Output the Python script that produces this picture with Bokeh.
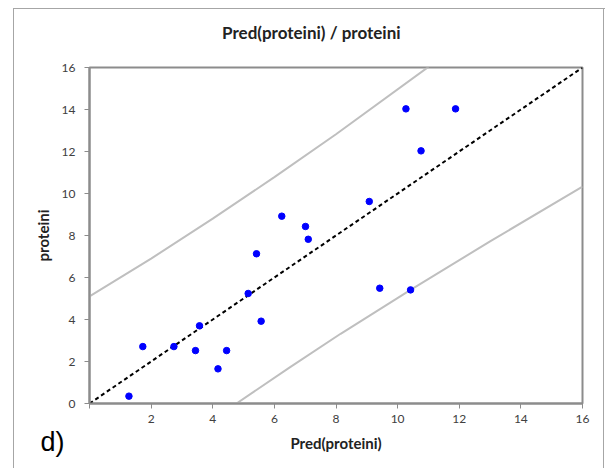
from bokeh.plotting import figure
from bokeh.models import Range1d, Label, FixedTicker
from bokeh.embed import file_html
from bokeh.resources import INLINE

# data
pred = [1.28, 1.73, 2.74, 3.44, 3.57, 4.17, 4.45, 5.15, 5.42, 5.57, 6.24, 7.01, 7.10,
        9.08, 9.42, 10.27, 10.42, 10.76, 11.88]
prot = [0.35, 2.71, 2.71, 2.52, 3.70, 1.65, 2.52, 5.24, 7.13, 3.92, 8.92, 8.43, 7.82,
        9.62, 5.49, 14.03, 5.41, 12.03, 14.03]
diag_x = [0, 16]
diag_y = [0, 16]
upper_x = [0.0, 2.0, 4.0, 6.0, 8.0, 11.0]
upper_y = [5.1, 6.9, 8.8, 10.78, 12.82, 16.03]
lower_x = [4.77, 6.5, 8.15, 10.42, 13.0, 16.0]
lower_y = [0.0, 1.72, 3.32, 5.41, 7.72, 10.33]
ticks = [0, 2, 4, 6, 8, 10, 12, 14, 16]
title_text = "Pred(proteini) / proteini"
panel_tag = "d)"

FONT = "Lato"
GREY = "#8c8c8c"
BORDER = "#a6a6a6"

p = figure(width=605, height=468, output_backend="svg", toolbar_location=None,
           x_range=Range1d(0, 16), y_range=Range1d(0, 16),
           min_border_left=89, min_border_right=23, min_border_top=67, min_border_bottom=65)
p.background_fill_color = "white"
p.border_fill_color = None
p.grid.visible = False
p.outline_line_color = GREY
p.outline_line_width = 2
g = f"linear-gradient({BORDER},{BORDER})"
p.styles = {
    "background-color": "white",
    "background-image": f"{g}, {g}, {g}",
    "background-size": "1px 100%, 100% 1px, 1px 100%",
    "background-position": "13px 8px, 13px 8px, 603px 8px",
    "background-repeat": "no-repeat",
}

for ax in (p.xaxis[0], p.yaxis[0]):
    ax.ticker = FixedTicker(ticks=ticks)
    ax.axis_line_color = GREY
    ax.axis_line_width = 2
    ax.major_tick_line_color = GREY
    ax.major_tick_out = 5
    ax.major_tick_in = 0
    ax.minor_tick_line_color = None
    ax.major_label_text_font = FONT
    ax.major_label_text_font_size = "12px"
    ax.major_label_text_color = "#404040"
    ax.axis_label_text_font = FONT
    ax.axis_label_text_font_size = "15px"
    ax.axis_label_text_font_style = "bold"
    ax.axis_label_text_color = "#222222"

p.xaxis.major_label_overrides = {0: ""}
p.xaxis.axis_label = "Pred(proteini)"
p.yaxis.axis_label = "proteini"
p.xaxis.major_label_standoff = 6
p.yaxis.major_label_standoff = 9
p.xaxis.axis_label_standoff = 8
p.yaxis.axis_label_standoff = 7

p.line(upper_x, upper_y, line_color="#bfbfbf", line_width=2)
p.line(lower_x, lower_y, line_color="#bfbfbf", line_width=2)
p.line(diag_x, diag_y, line_color="black", line_width=2, line_dash="4 3")
p.scatter(pred, prot, size=6.5, fill_color="#0000ff", line_color="#0000ff")

# title and panel tag live in side panels so they are not clipped to the frame
p.add_layout(Label(x=7.2, y=17.67, text=title_text, text_font=FONT, text_font_size="17px",
                   text_font_style="bold", text_color="#222222",
                   text_align="center", text_baseline="middle"), "above")
p.add_layout(Label(x=-1.2, y=-1.81, text=panel_tag, text_font="Liberation Sans",
                   text_font_size="27px", text_color="black",
                   text_align="center", text_baseline="middle"), "left")

open("out.html", "w").write(file_html(p, INLINE))
